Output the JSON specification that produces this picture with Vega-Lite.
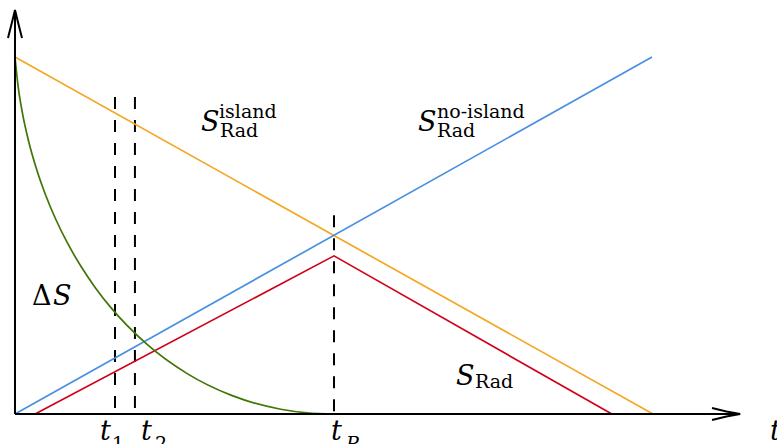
{
  "$schema": "https://vega.github.io/schema/vega-lite/v6.json",
  "width": 777,
  "height": 444,
  "autosize": {"type": "none"},
  "padding": 0,
  "background": "white",
  "config": {"view": {"stroke": null}},
  "datasets": {
    "straight": [
      {"series": "island", "t": 0, "s": 10},
      {"series": "island", "t": 20, "s": 0},
      {"series": "noisland", "t": 0, "s": 0},
      {"series": "noisland", "t": 19.97, "s": 10},
      {"series": "rad", "t": 0.63, "s": 0},
      {"series": "rad", "t": 10, "s": 4.43},
      {"series": "rad", "t": 18.71, "s": 0}
    ],
    "delta": [
      {"series": "delta", "t": 0, "s": 10},
      {"series": "delta", "t": 0.095, "s": 9.196},
      {"series": "delta", "t": 0.238, "s": 8.406},
      {"series": "delta", "t": 0.429, "s": 7.635},
      {"series": "delta", "t": 0.667, "s": 6.884},
      {"series": "delta", "t": 0.95, "s": 6.157},
      {"series": "delta", "t": 1.277, "s": 5.456},
      {"series": "delta", "t": 1.648, "s": 4.784},
      {"series": "delta", "t": 2.062, "s": 4.145},
      {"series": "delta", "t": 2.517, "s": 3.54},
      {"series": "delta", "t": 3.013, "s": 2.972},
      {"series": "delta", "t": 4.124, "s": 1.963},
      {"series": "delta", "t": 5.385, "s": 1.138},
      {"series": "delta", "t": 6.79, "s": 0.521},
      {"series": "delta", "t": 8.331, "s": 0.134},
      {"series": "delta", "t": 9.15, "s": 0.034},
      {"series": "delta", "t": 10, "s": 0}
    ],
    "markers": [
      {"name": "t1", "t": 3.135, "s": 8.88, "k": 0},
      {"name": "t1", "t": 3.135, "s": 0, "k": 1},
      {"name": "t2", "t": 3.76, "s": 8.88, "k": 0},
      {"name": "t2", "t": 3.76, "s": 0, "k": 1},
      {"name": "tP", "t": 10, "s": 5.57, "k": 0},
      {"name": "tP", "t": 10, "s": 0, "k": 1}
    ],
    "axes": [
      {"part": "vertical", "t": 0, "s": 0, "k": 0},
      {"part": "vertical", "t": 0, "s": 11.3, "k": 1},
      {"part": "horizontal", "t": 0, "s": 0, "k": 0},
      {"part": "horizontal", "t": 22.73, "s": 0, "k": 1},
      {"part": "up-head", "t": -0.22, "s": 10.53, "k": 0},
      {"part": "up-head", "t": -0.1, "s": 10.95, "k": 1},
      {"part": "up-head", "t": 0, "s": 11.32, "k": 2},
      {"part": "up-head", "t": 0.1, "s": 10.95, "k": 3},
      {"part": "up-head", "t": 0.22, "s": 10.53, "k": 4},
      {"part": "right-head", "t": 21.85, "s": 0.168, "k": 0},
      {"part": "right-head", "t": 22.3, "s": 0.07, "k": 1},
      {"part": "right-head", "t": 22.73, "s": 0, "k": 2},
      {"part": "right-head", "t": 22.3, "s": -0.07, "k": 3},
      {"part": "right-head", "t": 21.85, "s": -0.168, "k": 4}
    ],
    "labels": [
      {"label": "S", "kind": "it", "t": 5.831, "s": 7.927},
      {"label": "island", "kind": "sc", "t": 6.395, "s": 8.291},
      {"label": "Rad", "kind": "sc", "t": 6.426, "s": 7.759},
      {"label": "S", "kind": "it", "t": 12.633, "s": 7.927},
      {"label": "no-island", "kind": "sc", "t": 13.229, "s": 8.291},
      {"label": "Rad", "kind": "sc", "t": 13.229, "s": 7.759},
      {"label": "Δ", "kind": "rm", "t": 0.533, "s": 3.053},
      {"label": "S", "kind": "it", "t": 1.191, "s": 3.053},
      {"label": "S", "kind": "it", "t": 13.824, "s": 0.812},
      {"label": "Rad", "kind": "sc", "t": 14.42, "s": 0.728},
      {"label": "t", "kind": "it", "t": 2.665, "s": -0.728},
      {"label": "1", "kind": "sc", "t": 3.041, "s": -1.008},
      {"label": "t", "kind": "it", "t": 3.95, "s": -0.728},
      {"label": "2", "kind": "sc", "t": 4.389, "s": -1.008},
      {"label": "t", "kind": "it", "t": 9.906, "s": -0.728},
      {"label": "P", "kind": "sci", "t": 10.376, "s": -1.008},
      {"label": "t", "kind": "it", "t": 23.668, "s": -0.728}
    ]
  },
  "encoding": {
    "x": {"field": "t", "type": "quantitative", "axis": null,
          "scale": {"domain": [-0.47, 23.887], "nice": false, "zero": false}},
    "y": {"field": "s", "type": "quantitative", "axis": null,
          "scale": {"domain": [-0.84, 11.597], "nice": false, "zero": false}}
  },
  "layer": [
    {
      "data": {"name": "markers"},
      "mark": {"type": "line", "stroke": "black", "strokeWidth": 2, "strokeDash": [12, 11]},
      "encoding": {"detail": {"field": "name"}, "order": {"field": "k"}}
    },
    {
      "data": {"name": "straight"},
      "mark": {"type": "line", "strokeWidth": 1.7},
      "encoding": {
        "color": {"field": "series", "type": "nominal", "legend": null,
                  "scale": {"domain": ["island", "noisland", "rad", "delta"],
                            "range": ["#F5A623", "#4A90E2", "#D0021B", "#417505"]}}
      }
    },
    {
      "data": {"name": "delta"},
      "mark": {"type": "line", "strokeWidth": 1.7, "interpolate": "monotone"},
      "encoding": {
        "color": {"field": "series", "type": "nominal", "legend": null,
                  "scale": {"domain": ["island", "noisland", "rad", "delta"],
                            "range": ["#F5A623", "#4A90E2", "#D0021B", "#417505"]}}
      }
    },
    {
      "data": {"name": "axes"},
      "mark": {"type": "line", "stroke": "black", "strokeWidth": 2, "strokeJoin": "miter"},
      "encoding": {"detail": {"field": "part"}, "order": {"field": "k"}}
    },
    {
      "data": {"name": "labels"},
      "transform": [{"filter": "datum.kind === 'it'"}],
      "mark": {"type": "text", "align": "left", "baseline": "alphabetic", "font": "DejaVu Serif",
               "fontStyle": "italic", "fontSize": 27, "color": "black"},
      "encoding": {"text": {"field": "label"}}
    },
    {
      "data": {"name": "labels"},
      "transform": [{"filter": "datum.kind === 'rm'"}],
      "mark": {"type": "text", "align": "left", "baseline": "alphabetic", "font": "DejaVu Serif",
               "fontSize": 27, "color": "black"},
      "encoding": {"text": {"field": "label"}}
    },
    {
      "data": {"name": "labels"},
      "transform": [{"filter": "datum.kind === 'sc'"}],
      "mark": {"type": "text", "align": "left", "baseline": "alphabetic", "font": "DejaVu Serif",
               "fontSize": 19, "color": "black"},
      "encoding": {"text": {"field": "label"}}
    },
    {
      "data": {"name": "labels"},
      "transform": [{"filter": "datum.kind === 'sci'"}],
      "mark": {"type": "text", "align": "left", "baseline": "alphabetic", "font": "DejaVu Serif",
               "fontStyle": "italic", "fontSize": 19, "color": "black"},
      "encoding": {"text": {"field": "label"}}
    }
  ]
}
